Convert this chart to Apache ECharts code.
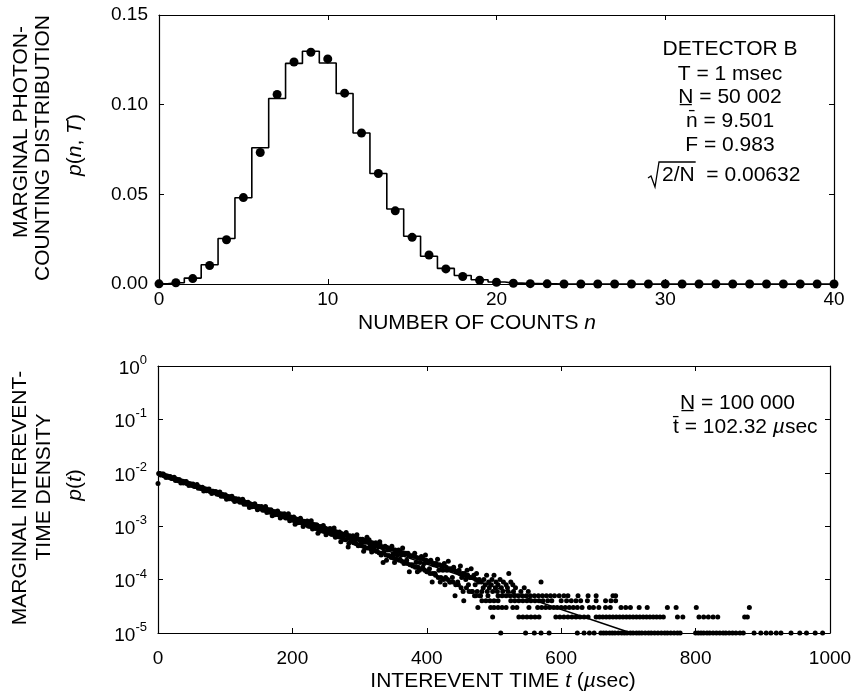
<!DOCTYPE html>
<html><head><meta charset="utf-8">
<script src="https://cdn.jsdelivr.net/npm/echarts@6/dist/echarts.min.js"></script>
<style>html,body{margin:0;padding:0;background:#fff}#c{width:860px;height:693px}</style>
</head><body><div id="c"></div>
<script>
// ---------- top panel: photon-counting distribution ----------
const nValues = [0,1,2,3,4,5,6,7,8,9,10,11,12,13,14,15,16,17,18,19,20,21,22,23,24,25,26,27,28,29,30,31,32,33,34,35,36,37,38,39,40];
const stepValues = [0.0001,0.0007,0.0033,0.0107,0.0254,0.0481,0.0760,0.1034,0.1230,0.1298,0.1232,0.1062,0.0842,0.0616,0.0418,0.0266,0.0155,0.0087,0.0047,0.0024,0.0011,0.0005,0.0002,0.0001,0,0,0,0,0,0,0,0,0,0,0,0,0,0,0,0,0];
const dotValues = [0.0001,0.0007,0.0030,0.0103,0.0247,0.0482,0.0733,0.1057,0.1238,0.1292,0.1255,0.1064,0.0842,0.0616,0.0408,0.0260,0.0162,0.0084,0.0042,0.0021,0.0010,0.0004,0.0002,0.0001,0,0,0,0,0,0,0,0,0,0,0,0,0,0,0,0,0];
const topXTicks = [0,10,20,30,40];
const topYTicks = [0.00,0.05,0.10,0.15];

// ---------- bottom panel: interevent-time density ----------
// counts per 1 µs bin; density = count * 1e-5 (N = 100 000)
const countUnit = 1e-5;
const firstBinT = 0, firstBinCount = 630;
// odd bins t = 1,3,5,...,479
const bandOddCounts = [
972,955,921,918,880,889,851,846,818,825,788,772,781,741,730,738,699,689,693,655,661,632,640,605,611,
580,589,566,551,560,529,533,508,515,489,496,470,479,452,444,450,427,433,409,417,393,399,380,386,362,
370,350,356,337,343,321,331,311,318,297,306,286,295,276,284,264,272,255,263,244,252,235,243,225,234,
216,227,208,217,199,209,192,201,185,194,176,186,170,179,163,172,156,167,150,160,144,153,139,148,133,
143,127,138,122,133,117,129,113,124,108,119,103,115,99,111,95,106,91,103,88,99,84,95,80,92,
77,88,74,85,71,82,67,79,64,76,62,73,58,71,56,69,41,66,52,64,49,61,47,59,45,
57,43,56,41,53,62,39,51,37,49,35,47,34,46,32,44,31,21,41,29,40,28,38,26,37,
25,36,24,34,23,33,22,32,21,31,20,29,19,28,18,27,17,26,17,15,25,16,24,15,23,
14,22,13,21,13,20,12,19,11,19,11,18,10,8,17,10,16,9,15,9,15,8,14,8,13,
7,13,4,12,7,12,6,11,6,11,5,10,6,9,5];
// even bins t = 2,4,6,...,478
const bandEvenCounts = [
967,906,945,952,874,819,870,830,853,778,791,829,719,757,713,742,645,695,645,682,689,626,581,626,594,
617,554,567,601,511,545,509,536,456,500,459,491,500,447,411,451,426,447,395,407,438,362,392,363,387,
321,359,327,355,362,320,291,325,304,323,281,293,319,257,282,259,280,225,259,232,256,264,228,204,234,
218,235,200,210,233,181,204,185,203,157,186,163,186,192,163,143,170,156,171,142,151,171,127,147,131,
148,109,134,116,134,141,117,99,122,112,125,100,108,126,89,106,93,107,74,97,81,98,103,83,69,
88,80,91,71,78,93,62,77,66,78,51,69,57,71,76,59,48,65,57,66,49,56,69,43,56,
47,57,34,50,39,51,56,42,33,47,41,49,34,41,51,29,40,33,42,23,36,28,38,42,30,
21,34,29,36,24,29,39,20,30,23,31,14,27,19,28,31,21,14,25,21,27,17,20,29,14,
21,16,23,9,19,13,20,24,15,9,18,15,20,11,15,22,9,16,11,17,5,14,9,15,18,
11,6,13,10,15,8,11,16,6,12,8,13,3,10];
const tailCount1T = [510,547,560,570,582,624,634,642,649,659,663,667,672,676,680,685,690,694,698,703,707,712,716,720,725,730,734,739,744,749,754,758,763,768,773,777,800,804,808,812,817,821,826,831,836,841,845,850,855,860,866,871,887,897,905,912,920,927,942,955,965,978,989];
const tailCount2T = [498,537,543,549,555,561,567,592,598,604,610,616,622,628,634,640,652,657,662,667,672,677,682,687,692,697,702,707,712,717,722,727,732,737,742,747,752,773,781,805,812,819,826,833,873,877];
const tailCount3T = [495,500,506,512,518,528,534,552,565,571,577,583,589,594,600,606,612,618,624,631,642,648,656,666,673,689,696,703,716,728,758,771,801,880];
const tailCount4T = [482,488,494,500,506,525,531,537,543,549,555,561,567,573,580,586,600,608,615,622,629,639,652,666,674,681];
const tailCount5T = [473,480,491,506,512,518,524,530,536,542,548,554,560,566,572,578,584,590,597,604,610,625,640,652,677,681];
const tailCount6T = [482,490,498,505,513,521,529,540,551];
const tailCount7T = [484,493,502,511,520,532,545];
const tailCount8T = [487,496,506,518,528];
const tailCount9T = [481,492,503,514,525,570];
const tailCount10T = [485,497,509];
const tailCount12T = [489,500];
const tailCount13T = [522];
const fitT = [0, 704];
const fitP = [0.00977, 0.00001];
const botXTicks = [0,200,400,600,800,1000];

// ---------- build ----------
const FONT = 'Liberation Sans';
const BLK = '#000';
const TICK_FS = 19, TITLE_FS = 21;

const stepData = nValues.map((n,i)=>[n, stepValues[i]]);
const dotData = nValues.map((n,i)=>[n, dotValues[i]]);

const bottomPts = [[firstBinT, firstBinCount*countUnit]];
bandOddCounts.forEach((c,i)=>bottomPts.push([1 + 2*i, c*countUnit]));
bandEvenCounts.forEach((c,i)=>bottomPts.push([2 + 2*i, c*countUnit]));
[[1,tailCount1T],[2,tailCount2T],[3,tailCount3T],[4,tailCount4T],[5,tailCount5T],[6,tailCount6T],
 [7,tailCount7T],[8,tailCount8T],[9,tailCount9T],[10,tailCount10T],[12,tailCount12T],[13,tailCount13T]]
 .forEach(([k,ts])=>ts.forEach(t=>bottomPts.push([t, k*countUnit])));
const fitData = fitT.map((t,i)=>[t, fitP[i]]);

const lineStyle = {color:BLK, width:1.2};
function vAxis(extra){
  return Object.assign({
    type:'value', splitLine:{show:false},
    axisLine:{show:true, onZero:false, lineStyle},
    axisTick:{show:true, inside:true, length:5, lineStyle:{color:BLK,width:1}},
    axisLabel:{color:BLK, fontSize:TICK_FS, fontFamily:FONT}
  }, extra);
}
const hidden = {show:false};

const chart = echarts.init(document.getElementById('c'), null, {renderer:'canvas'});

const cv = document.createElement('canvas').getContext('2d');
cv.font = TITLE_FS + 'px "' + FONT + '"';
const w2N = cv.measureText('2/N').width;

const rich = {
  r:{fontSize:TITLE_FS, fontFamily:FONT, color:BLK},
  i:{fontSize:TITLE_FS, fontFamily:FONT, color:BLK, fontStyle:'italic'}
};
function txt(x,y,text,opts){
  return Object.assign({type:'text', x, y, silent:true, style:Object.assign({
    text, fontSize:TITLE_FS, fontFamily:FONT, fill:BLK, align:'center', verticalAlign:'middle', rich
  }, opts && opts.style)}, opts && opts.el);
}
const rot = {el:{rotation:Math.PI/2}};
const sqX = 648, sqY = 175;

const option = {
  backgroundColor:'#fff',
  animation:false,
  grid:[
    {left:159, top:15, width:675, height:269},
    {left:158, top:366, width:672, height:267}
  ],
  xAxis:[
    vAxis({gridIndex:0, min:0, max:40, interval:10, axisLabel:{color:BLK,fontSize:TICK_FS,fontFamily:FONT,margin:6}}),
    vAxis({gridIndex:0, position:'top', min:0, max:40, interval:10, axisLabel:hidden}),
    vAxis({gridIndex:1, min:0, max:1000, interval:200, axisLabel:{color:BLK,fontSize:TICK_FS,fontFamily:FONT,margin:16,formatter:v=>String(v)}}),
    vAxis({gridIndex:1, position:'top', min:0, max:1000, interval:200, axisLabel:hidden})
  ],
  yAxis:[
    vAxis({gridIndex:0, min:0, max:0.15, interval:0.05, axisLabel:{color:BLK,fontSize:TICK_FS,fontFamily:FONT,margin:11,formatter:v=>v.toFixed(2)}}),
    vAxis({gridIndex:0, position:'right', min:0, max:0.15, interval:0.05, axisLabel:hidden}),
    vAxis({gridIndex:1, type:'log', logBase:10, min:1e-5, max:1, splitNumber:5,
      axisLabel:{margin:11, formatter:v=>'{b|10}{s|'+Math.round(Math.log10(v))+'}',
        rich:{b:{fontSize:TICK_FS,fontFamily:FONT,color:BLK,lineHeight:24,verticalAlign:'bottom'},
              s:{fontSize:13,fontFamily:FONT,color:BLK,verticalAlign:'top'}}}}),
    vAxis({gridIndex:1, type:'log', logBase:10, min:1e-5, max:1, splitNumber:5, position:'right', axisLabel:hidden})
  ],
  series:[
    {type:'line', xAxisIndex:0, yAxisIndex:0, step:'middle', data:stepData, symbol:'none',
     lineStyle:{color:BLK, width:1.6}, z:2},
    {type:'scatter', xAxisIndex:0, yAxisIndex:0, data:dotData, symbolSize:9, itemStyle:{color:BLK, opacity:1}, clip:false, z:3},
    {type:'scatter', xAxisIndex:2, yAxisIndex:2, data:bottomPts, symbolSize:5, itemStyle:{color:BLK, opacity:1}, clip:false, z:3},
    {type:'line', xAxisIndex:2, yAxisIndex:2, data:fitData, symbol:'none', lineStyle:{color:BLK, width:1.5}, z:2}
  ],
  graphic:[
    txt(21,132,'MARGINAL PHOTON-',rot),
    txt(43,148,'COUNTING DISTRIBUTION',rot),
    txt(75,145,'{i|p}{r|(}{i|n}{r|, }{i|T}{r|)}',rot),
    txt(20,498,'MARGINAL INTEREVENT-',rot),
    txt(44,487,'TIME DENSITY',rot),
    txt(75,485,'{i|p}{r|(}{i|t}{r|)}',rot),
    txt(477,323,'{r|NUMBER OF COUNTS }{i|n}'),
    txt(503,681,'{r|INTEREVENT TIME }{i|t}{r| (}{i|\u00b5}{r|sec)}'),
    txt(730,49,'DETECTOR B'),
    txt(730,74,'T = 1 msec'),
    txt(730,97,'N\u0332 = 50 002'),
    txt(730,121,'n\u0304 = 9.501'),
    txt(730,145,'F = 0.983'),
    {type:'polyline', silent:true, shape:{points:[[sqX,sqY+3],[sqX+3,sqY+1],[sqX+7,sqY+12],[sqX+11,sqY-13],[sqX+15+w2N,sqY-13]]},
     style:{stroke:BLK, lineWidth:1.3, fill:null}},
    txt(sqX+14,sqY,'2/N  = 0.00632',{style:{align:'left'}}),
    txt(680,403,'N\u0332 = 100 000',{style:{align:'left'}}),
    txt(673,427,'{r|t\u0304 = 102.32 }{i|\u00b5}{r|sec}',{style:{align:'left'}})
  ]
};
chart.setOption(option);
</script>
</body></html>
